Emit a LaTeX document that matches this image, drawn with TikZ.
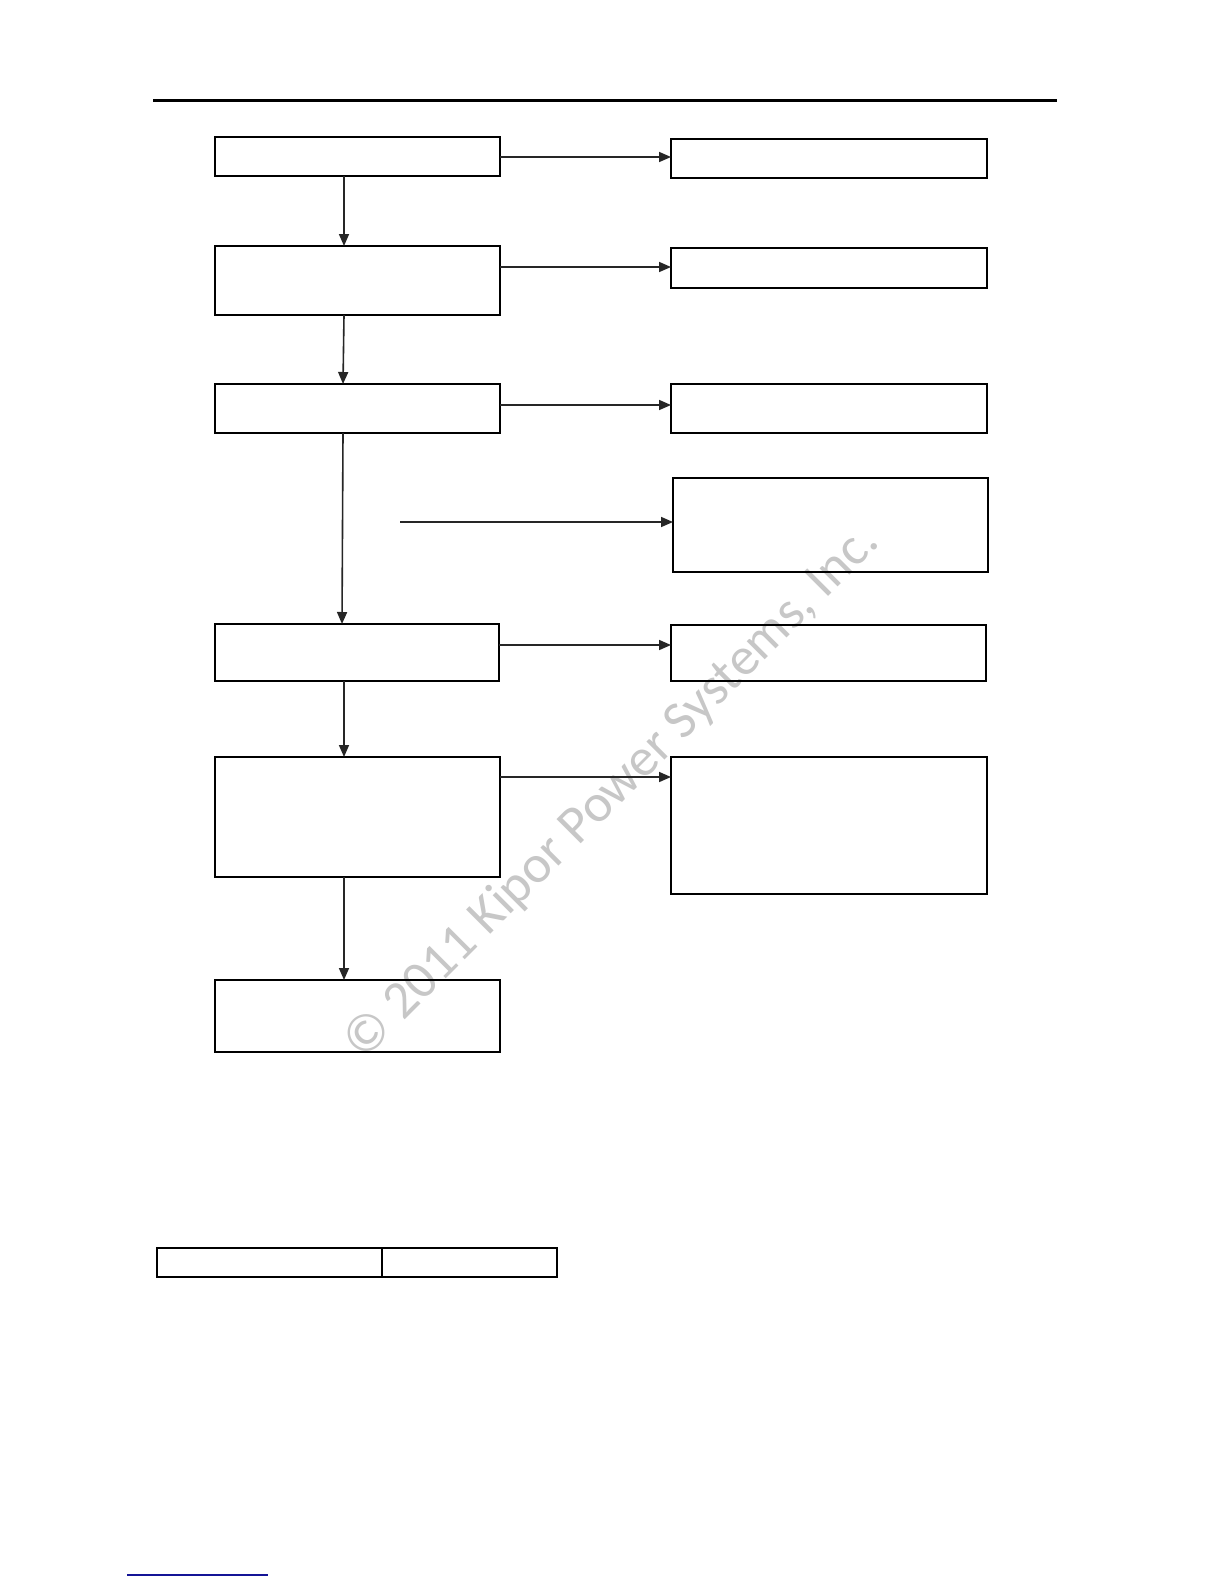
\documentclass[tikz,border=0pt]{standalone}
\usepackage{fontspec}
\setmainfont{Carlito}
\usetikzlibrary{arrows.meta}
\begin{document}
\begin{tikzpicture}[x=0.5pt,y=-0.5pt,
  box/.style={draw=black,line width=1pt,fill=none},
  boxthick/.style={draw=black,line width=1.4pt,fill=none},
  conn/.style={draw=black!85,line width=0.8pt,-{Triangle[length=6pt,width=5pt]}},
  wm/.style={text=black!22,font=\fontsize{26.7}{29}\selectfont,rotate=45,anchor=base}]
\useasboundingbox (0,0) rectangle (1224,1584);
\fill[white] (0,0) rectangle (1224,1584);
% watermark
\node[wm] (wmark) at (622,803) {© 2011 Kipor Power Systems, Inc.};
% top rule
\draw[line width=1.5pt] (153,101) -- (1057,101);
% left column
\draw[box] (215,137) rectangle (500,176);
\node[coordinate] (L1b) at (344,176) {};
\node[coordinate] (L1r) at (500,157) {};
\draw[box] (215,246) rectangle (500,315);
\node[coordinate] (L2t) at (344,246) {};
\node[coordinate] (L2b) at (344,315) {};
\node[coordinate] (L2r) at (500,267) {};
\draw[box] (215,384) rectangle (500,433);
\node[coordinate] (L3t) at (343,384) {};
\node[coordinate] (L3b) at (343,433) {};
\node[coordinate] (L3r) at (500,405) {};
\draw[box] (215,624) rectangle (499,681);
\node[coordinate] (L4t) at (342,624) {};
\node[coordinate] (L4b) at (344,681) {};
\node[coordinate] (L4r) at (499,645) {};
\draw[box] (215,757) rectangle (500,877);
\node[coordinate] (L5t) at (344,757) {};
\node[coordinate] (L5b) at (344,877) {};
\node[coordinate] (L5r) at (500,777) {};
\draw[boxthick] (215,980) rectangle (500,1052);
\node[coordinate] (L6t) at (344,980) {};
% right column
\draw[boxthick] (671,139) rectangle (987,178);
\node[coordinate] (R1l) at (671,157) {};
\draw[boxthick] (671,248) rectangle (987,288);
\node[coordinate] (R2l) at (671,267) {};
\draw[box] (671,384) rectangle (987,433);
\node[coordinate] (R3l) at (671,405) {};
\draw[box] (673,478) rectangle (988,572);
\node[coordinate] (R4l) at (673,522) {};
\draw[boxthick] (671,625) rectangle (986,681);
\node[coordinate] (R5l) at (671,645) {};
\draw[boxthick] (671,757) rectangle (987,894);
\node[coordinate] (R6l) at (671,777) {};
\coordinate (free) at (400,522);
% connectors
\draw[conn] (L1r) -- (R1l);
\draw[conn] (L2r) -- (R2l);
\draw[conn] (L3r) -- (R3l);
\draw[conn] (free) -- (R4l);
\draw[conn] (L4r) -- (R5l);
\draw[conn] (L5r) -- (R6l);
\draw[conn] (L1b) -- (L2t);
\draw[conn] (L2b) -- (L3t);
\draw[conn] (L3b) -- (L4t);
\draw[conn] (L4b) -- (L5t);
\draw[conn] (L5b) -- (L6t);
% bottom table
\draw[box] (157,1248) rectangle (557,1277);
\draw[line width=1pt] (382,1248) -- (382,1277);
% footer line
\draw[line width=1.2pt,color={rgb,255:red,20;green,20;blue,150}] (127,1575) -- (268,1575);
\end{tikzpicture}
\end{document}
